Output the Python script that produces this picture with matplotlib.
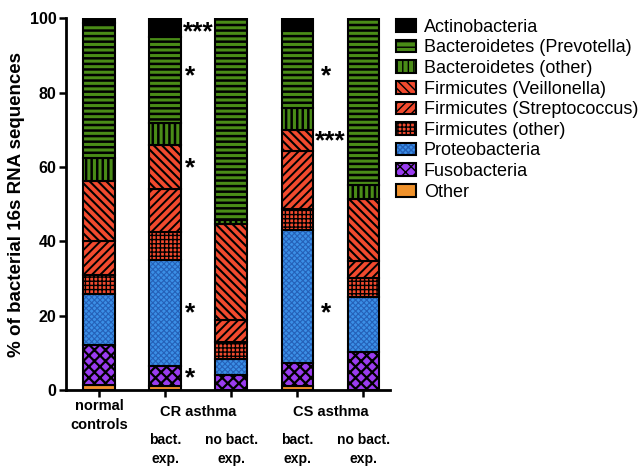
import numpy as np
import matplotlib.pyplot as plt
from matplotlib.patches import Patch
from matplotlib.legend_handler import HandlerTuple

plt.rcParams['font.family'] = ['Liberation Sans', 'DejaVu Sans']

# bars: normal controls, CR bact. exp., CR no bact. exp., CS bact. exp., CS no bact. exp.
other = [1.2, 1.1, 0.0, 1.1, 0.0]
fuso = [11.0, 5.4, 4.0, 6.1, 10.1]
proteo = [13.6, 28.5, 4.3, 35.8, 15.0]
firm_other = [5.2, 7.4, 4.7, 5.7, 4.9]
strep = [9.0, 11.7, 5.8, 15.7, 4.6]
veill = [16.3, 11.7, 25.9, 5.6, 16.8]
bact_other = [6.2, 5.9, 1.0, 5.9, 3.6]
prevotella = [36.2, 23.3, 54.3, 20.7, 45.0]
actino = [1.3, 6.4, 0.0, 3.4, 0.0]

# name, values, face colour, hatch colour, hatch, hatch linewidth
layers = [
    ('Other', other, '#f0922b', '#f0922b', '', 1),
    ('Fusobacteria', fuso, '#9a3cf0', 'black', 'xxx', 1.6),
    ('Proteobacteria', proteo, '#3b8fe6', '#2561b8', 'xxxxxx', 0.8),
    ('Firmicutes (other)', firm_other, '#f24a2e', 'black', '++++', 1.0),
    ('Firmicutes (Streptococcus)', strep, '#f24a2e', 'black', '////', 1.4),
    ('Firmicutes (Veillonella)', veill, '#f24a2e', 'black', '\\\\\\\\', 1.5),
    ('Bacteroidetes (other)', bact_other, '#4a8c17', 'black', '|||', 1.8),
    ('Bacteroidetes (Prevotella)', prevotella, '#4a8c17', 'black', '---', 1.8),
    ('Actinobacteria', actino, 'black', 'black', '', 1),
]

# significance marks: (x, y, text, alignment)
stars = [(1.27, 96.3, '***', 'left'), (1.38, 84.5, '*', 'center'), (1.38, 59.5, '*', 'center'),
         (1.38, 20.5, '*', 'center'), (1.38, 3.0, '*', 'center'),
         (3.43, 84.5, '*', 'center'), (3.26, 67.0, '***', 'left'), (3.43, 20.5, '*', 'center')]

fig = plt.figure(figsize=(6.44, 4.67), dpi=100)
ax = fig.add_axes([0.1025, 0.165, 0.503, 0.796])

x = np.arange(5)
w = 0.48
bottom = np.zeros(5)
handles = {}
for name, vals, fc, hc, h, hlw in layers:
    vals = np.array(vals)
    with plt.rc_context({'hatch.linewidth': hlw}):
        ax.bar(x, vals, w, bottom=bottom, color=fc, edgecolor=hc, hatch=h, linewidth=0)
        hp = Patch(facecolor=fc, edgecolor=hc, hatch=h, linewidth=0)
    ax.bar(x, vals, w, bottom=bottom, fill=False, edgecolor='black', linewidth=1.5)
    handles[name] = (hp, Patch(fill=False, edgecolor='black', linewidth=1.5))
    bottom += vals

for sx, sy, s, ha in stars:
    ax.text(sx, sy, s, ha=ha, va='center', fontsize=19, fontweight='bold')

ax.set_xlim(-0.5, 4.4)
ax.set_ylim(0, 100)
ax.set_yticks([0, 20, 40, 60, 80, 100])
ax.set_xticks(x)
ax.set_xticklabels([])
ax.tick_params(axis='both', width=1.8, length=5, labelsize=11.5, pad=2)
for lab in ax.get_yticklabels():
    lab.set_fontweight('bold')
ax.spines['top'].set_visible(False)
ax.spines['right'].set_visible(False)
ax.spines['left'].set_linewidth(2)
ax.spines['bottom'].set_linewidth(2)
ax.set_ylabel('% of bacterial 16s RNA sequences', fontsize=13.5, fontweight='bold', labelpad=3)

tr = ax.get_xaxis_transform()
ax.text(0, -0.025, 'normal\ncontrols', transform=tr, ha='center', va='top',
        fontsize=10.5, fontweight='bold', linespacing=1.4)
ax.text(1.5, -0.04, 'CR asthma', transform=tr, ha='center', va='top', fontsize=10.5, fontweight='bold')
ax.text(3.5, -0.04, 'CS asthma', transform=tr, ha='center', va='top', fontsize=10.5, fontweight='bold')
for xi, s in [(1, 'bact.\nexp.'), (2, 'no bact.\nexp.'), (3, 'bact.\nexp.'), (4, 'no bact.\nexp.')]:
    ax.text(xi, -0.117, s, transform=tr, ha='center', va='top',
            fontsize=10, fontweight='bold', linespacing=1.4)

order = ['Actinobacteria', 'Bacteroidetes (Prevotella)', 'Bacteroidetes (other)',
         'Firmicutes (Veillonella)', 'Firmicutes (Streptococcus)', 'Firmicutes (other)',
         'Proteobacteria', 'Fusobacteria', 'Other']
fig.legend([handles[n] for n in order], order, loc='upper left',
           bbox_to_anchor=(0.598, 0.983), frameon=False, fontsize=13,
           handler_map={tuple: HandlerTuple(ndivide=1, pad=0)},
           handlelength=1.1, handleheight=0.7, handletextpad=0.45, labelspacing=0.2,
           borderaxespad=0.2)

fig.savefig('out.png', dpi=100)
